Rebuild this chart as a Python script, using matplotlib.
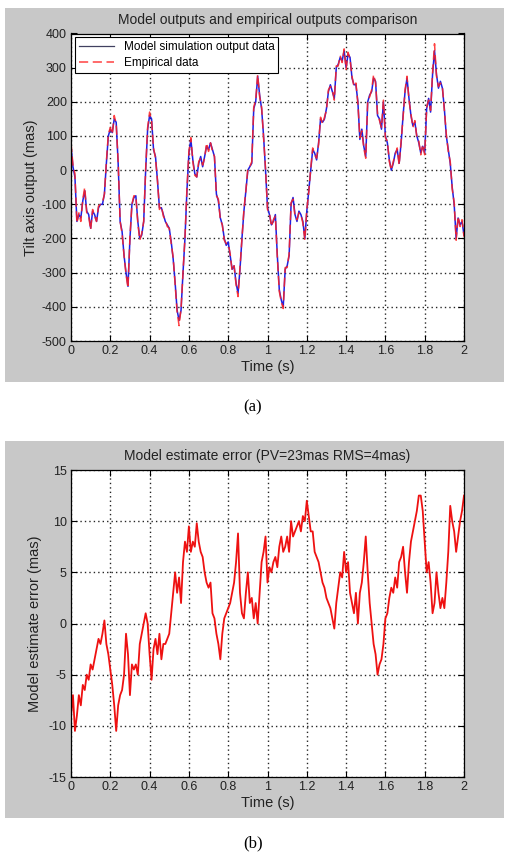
import numpy as np
import matplotlib
matplotlib.use("Agg")
import matplotlib.pyplot as plt
from matplotlib.patches import Rectangle

plt.rcParams['font.family'] = ['Liberation Sans', 'DejaVu Sans']
plt.rcParams['axes.unicode_minus'] = False

# ---- data ----
t_start, t_end, n_pts = 0.0, 2.0, 201
time = np.linspace(t_start, t_end, n_pts)

model_out = [70, 10, -20, -150, -130, -140, -90, -60, -120, -130,
             -170, -120, -130, -150, -110, -100, -100, -70, 20, 100,
             120, 110, 150, 140, 20, -150, -180, -250, -300, -340,
             -200, -100, -80, -75, -150, -200, -190, -150, 0, 120,
             160, 150, 60, 40, -30, -110, -110, -130, -150, -160,
             -170, -210, -260, -330, -410, -440, -410, -300, -200, -60,
             50, 90, 30, -10, -20, 20, 40, 10, 40, 70,
             60, 80, 60, 40, -70, -90, -140, -160, -200, -220,
             -210, -250, -290, -280, -330, -360, -290, -200, -120, -60,
             0, 10, 20, 180, 200, 275, 220, 180, 100, 0,
             -110, -130, -160, -150, -130, -250, -350, -380, -400, -290,
             -280, -250, -100, -80, -130, -150, -120, -130, -150, -200,
             -120, -60, 0, 60, 50, 30, 80, 150, 140, 150,
             180, 230, 250, 230, 210, 300, 310, 330, 320, 350,
             300, 340, 330, 270, 250, 250, 200, 90, 120, 70,
             40, 200, 220, 230, 270, 260, 160, 150, 120, 200,
             100, 80, 30, 0, 20, 50, 60, 20, 80, 160,
             230, 270, 210, 160, 130, 140, 100, 80, 50, 70,
             50, 180, 210, 170, 280, 350, 280, 240, 260, 240,
             180, 100, 60, 20, -50, -100, -200, -140, -160, -150,
             -190]

empirical = [80, 15, -10, -155, -125, -150, -85, -50, -125, -135,
             -175, -115, -135, -150, -105, -100, -95, -70, 25, 105,
             125, 105, 160, 135, 25, -150, -185, -250, -305, -345,
             -195, -100, -75, -75, -155, -205, -185, -150, 5, 125,
             170, 145, 65, 35, -30, -115, -105, -135, -145, -165,
             -170, -215, -255, -335, -415, -455, -405, -300, -195, -55,
             55, 95, 25, -15, -20, 25, 35, 15, 35, 80,
             55, 80, 55, 40, -75, -85, -145, -160, -205, -215,
             -215, -245, -295, -280, -335, -370, -285, -200, -115, -60,
             5, 10, 25, 185, 205, 280, 215, 185, 95, 5,
             -115, -125, -165, -145, -135, -255, -355, -385, -405, -285,
             -285, -245, -95, -85, -135, -145, -125, -130, -155, -205,
             -115, -65, 5, 65, 45, 35, 75, 155, 135, 155,
             175, 235, 245, 235, 205, 305, 305, 335, 315, 355,
             295, 345, 325, 275, 245, 255, 195, 95, 115, 65,
             35, 205, 215, 235, 280, 255, 165, 145, 125, 205,
             95, 85, 25, 0, 25, 45, 65, 15, 85, 155,
             235, 275, 205, 165, 125, 145, 95, 85, 45, 75,
             45, 185, 205, 175, 285, 370, 275, 245, 255, 245,
             175, 105, 55, 25, -55, -95, -205, -135, -165, -145,
             -195]

est_error = [-9, -7, -10.5, -9, -7, -8, -6, -6.5, -5, -5.5,
             -4, -4.5, -3.5, -2.5, -1.5, -2, -1, 0.3, -2, -3,
             -4.5, -6, -8, -10.5, -8, -7, -6.5, -5, -1, -3,
             -7, -4, -4.5, -4, -5, -2, -1, 0, 1, 0,
             -3, -5.5, -2.5, -1.5, -3, -1, -3.5, -2, -2, -1.5,
             -1, 1, 3, 5, 3, 4.5, 2, 6, 8, 7,
             9.5, 7, 8, 7.5, 9.8, 8, 7, 6.5, 5, 4,
             3.5, 4, 1, 0.5, -1, -2, -3.5, -1, 0.5, 1,
             1.5, 2, 3, 4, 6, 8.8, 3, 1, 0.5, 3,
             5, 2, 2.5, 0.5, 2, 0, 3, 6, 7, 8.5,
             4, 5.5, 5, 6, 6.5, 5.5, 7.5, 8.5, 7, 7.5,
             8.5, 7, 10, 8.5, 9, 9.5, 10, 9, 10.5, 10,
             12, 10.5, 9, 9, 7, 6.5, 6, 5, 4, 3.5,
             2.5, 2, 1.5, 0.5, -0.5, 2, 3.5, 5, 4.5, 7,
             5, 6, 3, 2, 1, 3, 0, 3, 4, 6,
             8.5, 5, 2, 0, -2, -3, -5, -4, -3.5, -2,
             0.5, 1, 2.5, 3.5, 3, 4.5, 3.5, 6, 6.5, 7.5,
             5, 3, 6, 8, 9, 10, 11, 12.5, 12.5, 11,
             8, 5, 6, 4, 1, 2, 5, 3, 1.5, 2.5,
             1.5, 4, 7, 11.5, 10, 9, 7, 8.5, 10, 11,
             12.5]

x_ticks = [0, 0.2, 0.4, 0.6, 0.8, 1.0, 1.2, 1.4, 1.6, 1.8, 2.0]
x_ticklabels = ["0", "0.2", "0.4", "0.6", "0.8", "1", "1.2", "1.4", "1.6", "1.8", "2"]
ya_ticks = [-500, -400, -300, -200, -100, 0, 100, 200, 300, 400]
yb_ticks = [-15, -10, -5, 0, 5, 10, 15]

W, H = 505, 857
fig = plt.figure(figsize=(W / 100, H / 100), dpi=100)
fig.patch.set_facecolor('white')

gray = '#c8c8c8'
def px_rect(x0, y0, x1, y1):
    return [x0 / W, 1 - y1 / H, (x1 - x0) / W, (y1 - y0) / H]

for (x0, y0, x1, y1) in [(5, 8, 504, 382), (5, 441, 504, 818)]:
    r = px_rect(x0, y0, x1, y1)
    fig.patches.append(Rectangle((r[0], r[1]), r[2], r[3], transform=fig.transFigure,
                                 facecolor=gray, edgecolor='none', zorder=-10))

axA = fig.add_axes(px_rect(71, 33.5, 464, 341))
axB = fig.add_axes(px_rect(71, 470, 464, 777))
axA.set_zorder(5)
axB.set_zorder(5)

def style(ax):
    ax.set_facecolor('white')
    ax.set_xlim(0, 2)
    ax.set_xticks(x_ticks)
    ax.set_xticklabels(x_ticklabels)
    ax.tick_params(direction='in', top=True, right=True, length=4, width=0.8,
                   labelsize=9, pad=3, colors='black', labelcolor='#222222')
    ax.grid(True, color='black', linestyle=(0, (1.0, 2.2)), linewidth=1.0, alpha=0.85)
    for s in ax.spines.values():
        s.set_linewidth(0.9)
        s.set_color('black')
    ax.set_xlabel('Time (s)', fontsize=10.5, labelpad=2, color='#222222')

style(axA)
axA.set_ylim(-500, 400)
axA.set_yticks(ya_ticks)
axA.plot(time, model_out, color='#2020e0', linewidth=1.1, label='Model simulation output data')
axA.plot(time, empirical, color='#ff2020', linewidth=1.1, linestyle=(0, (6, 3)),
         alpha=0.85, label='Empirical data')
axA.set_ylabel('Tilt axis output (mas)', fontsize=10.5, labelpad=3, color='#222222')
axA.set_title('Model outputs and empirical outputs comparison', fontsize=10, pad=7, color='#222222')
leg = axA.legend(loc='upper left', fontsize=8.5, frameon=True, fancybox=False,
                 edgecolor='black', framealpha=1, borderaxespad=0.3,
                 handlelength=3.0, borderpad=0.35, labelspacing=0.3)
leg.get_frame().set_linewidth(0.8)
leg.get_lines()[0].set_color('#404060')
leg.get_lines()[0].set_linewidth(0.9)

style(axB)
axB.set_ylim(-15, 15)
axB.set_yticks(yb_ticks)
axB.plot(time, est_error, color='#ee1111', linewidth=1.3)
axB.set_ylabel('Model estimate error (mas)', fontsize=10.5, labelpad=5, color='#222222')
axB.set_title('Model estimate error (PV=23mas RMS=4mas)', fontsize=10, pad=7, color='#222222')

fig.text(253 / W, 1 - 407 / H, '(a)', ha='center', va='center', fontsize=12,
         family=['Liberation Serif', 'DejaVu Serif'])
fig.text(253 / W, 1 - 843 / H, '(b)', ha='center', va='center', fontsize=12,
         family=['Liberation Serif', 'DejaVu Serif'])

fig.savefig('out.png', dpi=100, facecolor='white')
